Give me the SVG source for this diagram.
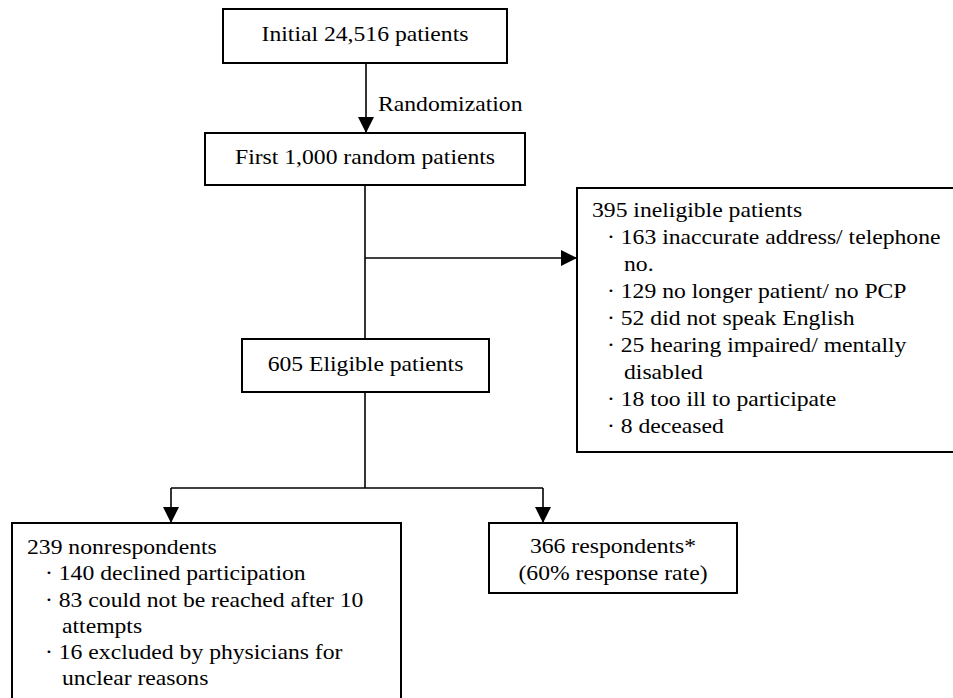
<svg xmlns="http://www.w3.org/2000/svg" width="953" height="698" viewBox="0 0 953 698">
<style>
.box{fill:#fff;stroke:#000;stroke-width:2}
.ln{fill:none;stroke:#000;stroke-width:1.6}
text{font-family:"Liberation Serif",Tinos,FreeSerif,"Times New Roman",serif;font-size:21.5px;fill:#000}
.c{text-anchor:middle}
</style>
<defs>
<marker id="ah" markerUnits="userSpaceOnUse" markerWidth="16" markerHeight="16" viewBox="0 0 16 16" refX="16" refY="8" orient="auto">
<path d="M0,0 L16,8 L0,16 Z" fill="#000"/>
</marker>
</defs>
<rect width="953" height="698" fill="#fff"/>
<g id="connectors">
<line class="ln" x1="366" y1="63" x2="366" y2="133" marker-end="url(#ah)"/>
<text transform="translate(378,111) scale(1.1,1)">Randomization</text>
<line class="ln" x1="365" y1="185" x2="365" y2="339"/>
<line class="ln" x1="365" y1="258" x2="577" y2="258" marker-end="url(#ah)"/>
<line class="ln" x1="365" y1="392" x2="365" y2="488"/>
<line class="ln" x1="171" y1="488" x2="543" y2="488"/>
<line class="ln" x1="171" y1="488" x2="171" y2="523" marker-end="url(#ah)"/>
<line class="ln" x1="543" y1="488" x2="543" y2="523" marker-end="url(#ah)"/>
</g>
<g id="initial">
<rect class="box" x="223" y="9" width="284" height="54"/>
<text class="c" transform="translate(365,41) scale(1.1,1)">Initial 24,516 patients</text>
</g>
<g id="first">
<rect class="box" x="205" y="133" width="320" height="52"/>
<text class="c" transform="translate(365,164) scale(1.1,1)">First 1,000 random patients</text>
</g>
<g id="ineligible">
<rect class="box" x="577" y="188" width="390" height="264"/>
<text transform="translate(592,217) scale(1.1,1)">395 ineligible patients</text>
<text transform="translate(607,244) scale(1.1,1)">· 163 inaccurate address/ telephone</text>
<text transform="translate(624,271) scale(1.1,1)">no.</text>
<text transform="translate(607,298) scale(1.1,1)">· 129 no longer patient/ no PCP</text>
<text transform="translate(607,325) scale(1.1,1)">· 52 did not speak English</text>
<text transform="translate(607,352) scale(1.1,1)">· 25 hearing impaired/ mentally</text>
<text transform="translate(624,379) scale(1.1,1)">disabled</text>
<text transform="translate(607,406) scale(1.1,1)">· 18 too ill to participate</text>
<text transform="translate(607,433) scale(1.1,1)">· 8 deceased</text>
</g>
<g id="eligible">
<rect class="box" x="242" y="339" width="247" height="53"/>
<text class="c" transform="translate(365.5,371) scale(1.1,1)">605 Eligible patients</text>
</g>
<g id="nonrespondents">
<rect class="box" x="12" y="523" width="389" height="200"/>
<text transform="translate(27,554) scale(1.1,1)">239 nonrespondents</text>
<text transform="translate(45,580) scale(1.1,1)">· 140 declined participation</text>
<text transform="translate(45,607) scale(1.1,1)">· 83 could not be reached after 10</text>
<text transform="translate(62,633) scale(1.1,1)">attempts</text>
<text transform="translate(45,659) scale(1.1,1)">· 16 excluded by physicians for</text>
<text transform="translate(62,685) scale(1.1,1)">unclear reasons</text>
</g>
<g id="respondents">
<rect class="box" x="489" y="523" width="248" height="70"/>
<text class="c" transform="translate(613,553) scale(1.1,1)">366 respondents*</text>
<text class="c" transform="translate(613,580) scale(1.1,1)">(60% response rate)</text>
</g>
</svg>
